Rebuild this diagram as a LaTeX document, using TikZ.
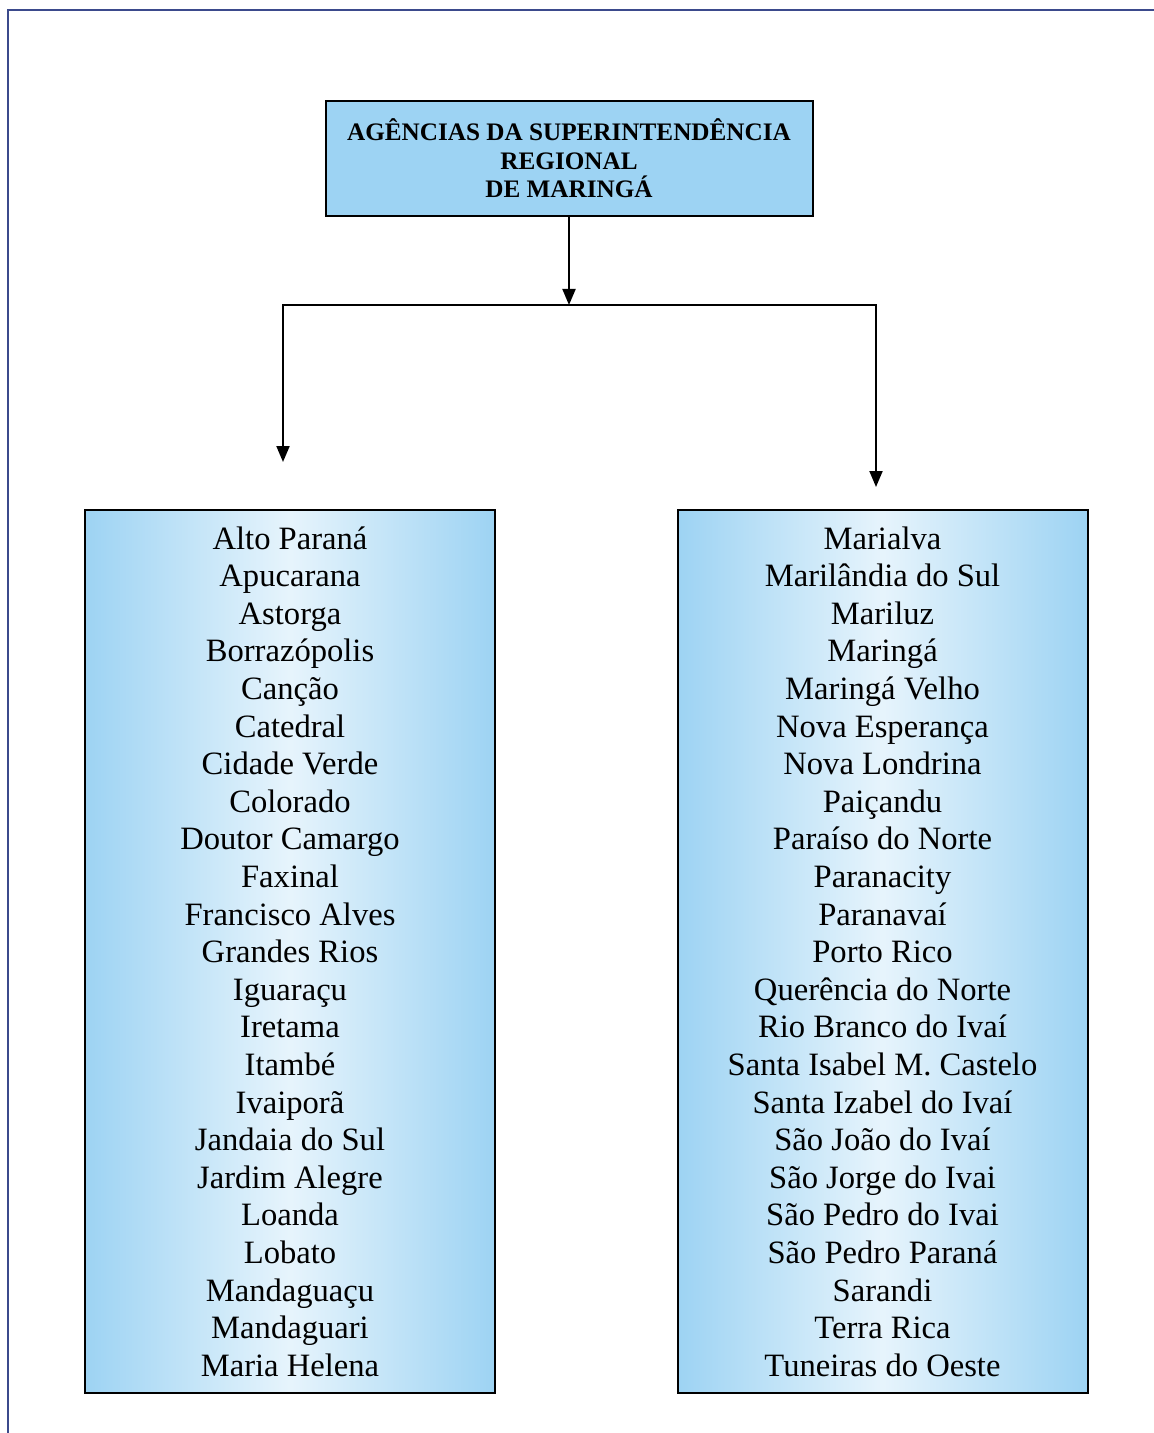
\documentclass[tikz,border=0pt]{standalone}
\usepackage{fontspec}
\setmainfont{Liberation Serif}
\usetikzlibrary{arrows.meta}

\definecolor{boxblue}{HTML}{9DD3F3}
\definecolor{framenavy}{HTML}{3B4A8C}

\begin{document}
\begin{tikzpicture}[x=0.5pt, y=-0.5pt,
    headbox/.style={draw=black, line width=1pt, fill=boxblue, align=center,
      minimum width=243.5pt, minimum height=57.5pt, inner sep=0pt,
      font={\bfseries\fontsize{12.6}{14.3}\selectfont}},
    listbox/.style={draw=black, line width=1pt, left color=boxblue,
      right color=boxblue, middle color=white!75!boxblue, align=center,
      minimum width=205pt, minimum height=441.5pt, inner sep=0pt,
      font={\fontsize{16.3}{18.8}\selectfont}},
    link/.style={line width=1pt, -{Triangle[length=8pt,width=6.5pt]}}]
        \useasboundingbox (0,0) rectangle (1154,1433);

        % Page frame
        \draw[framenavy, line width=1pt] (8,1433) -- (8,10) -- (1154,10);

        % Superintendence
        \node[headbox] (sr) at (569,158.5)
          {AGÊNCIAS DA SUPERINTENDÊNCIA\\ REGIONAL\\ DE MARINGÁ};

        % Agencies, left column
        \node[listbox] (agleft) at (290,951.5)
          {Alto Paraná\\ Apucarana\\ Astorga\\ Borrazópolis\\ Canção\\
           Catedral\\ Cidade Verde\\ Colorado\\ Doutor Camargo\\ Faxinal\\
           Francisco Alves\\ Grandes Rios\\ Iguaraçu\\ Iretama\\ Itambé\\
           Ivaiporã\\ Jandaia do Sul\\ Jardim Alegre\\ Loanda\\ Lobato\\
           Mandaguaçu\\ Mandaguari\\ Maria Helena};

        % Agencies, right column
        \node[listbox] (agright) at (882.5,951.5)
          {Marialva\\ Marilândia do Sul\\ Mariluz\\ Maringá\\ Maringá Velho\\
           Nova Esperança\\ Nova Londrina\\ Paiçandu\\ Paraíso do Norte\\
           Paranacity\\ Paranavaí\\ Porto Rico\\ Querência do Norte\\
           Rio Branco do Ivaí\\ Santa Isabel M. Castelo\\ Santa Izabel do Ivaí\\
           São João do Ivaí\\ São Jorge do Ivai\\ São Pedro do Ivai\\
           São Pedro Paraná\\ Sarandi\\ Terra Rica\\ Tuneiras do Oeste};

        % Branching
        \coordinate (split) at (569,305);
        \coordinate (lturn) at (283,305);
        \coordinate (rturn) at (876,305);
        \coordinate (lend) at (283,462);
        \coordinate (rend) at (876,487);
        \draw[link] (sr.south) -- (split);
        \draw[link] (split) -- (lturn) -- (lend);
        \draw[link] (split) -- (rturn) -- (rend);
\end{tikzpicture}
\end{document}
